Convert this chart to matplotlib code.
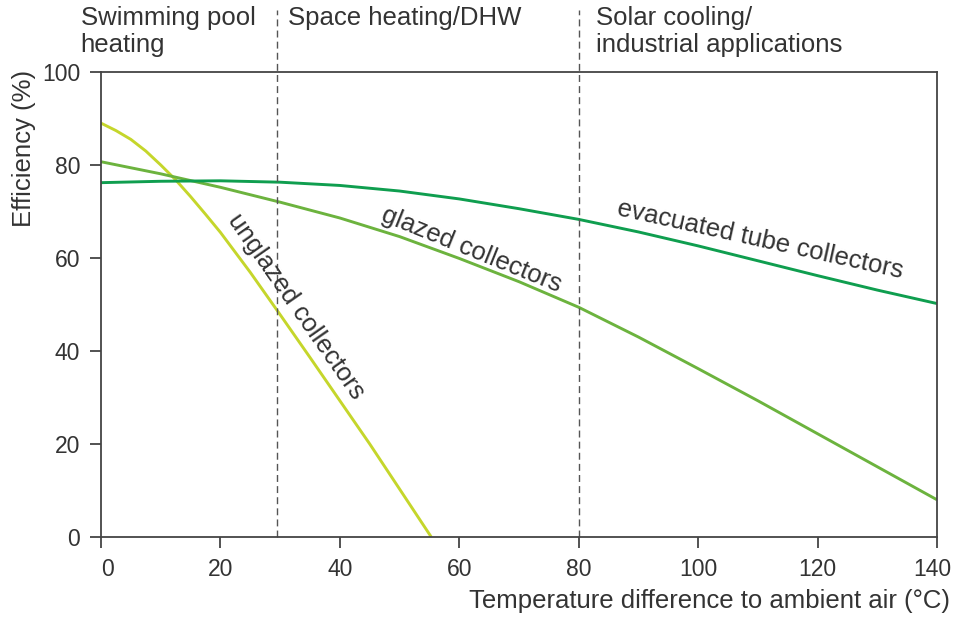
import matplotlib
matplotlib.use("Agg")
import matplotlib.pyplot as plt
from matplotlib.transforms import ScaledTranslation

plt.rcParams['font.family'] = ['Liberation Sans', 'DejaVu Sans']

# values
unglazed_x = [0, 2.5, 5, 7.5, 10, 12.5, 15, 17.5, 20, 25, 30, 35, 40, 45, 50, 55.3]
unglazed_y = [89, 87.4, 85.5, 83.0, 80.0, 76.8, 73.2, 69.4, 65.5, 56.9, 47.8, 38.6, 29.3, 20, 10.3, 0]

glazed_x = [0, 10, 20, 30, 40, 50, 60, 70, 80, 90, 100, 110, 120, 130, 140]
glazed_y = [80.7, 78.1, 75.2, 72.0, 68.6, 64.6, 59.9, 54.9, 49.4, 43.0, 36.2, 29.3, 22.2, 15.1, 8]

evac_x = [0, 10, 20, 30, 40, 50, 60, 70, 80, 90, 100, 110, 120, 130, 140]
evac_y = [76.2, 76.5, 76.6, 76.3, 75.6, 74.4, 72.7, 70.6, 68.3, 65.6, 62.6, 59.4, 56.2, 53.1, 50.2]

region_bounds = [29.5, 80]
region_names = ["Swimming pool\nheating", "Space heating/DHW", "Solar cooling/\nindustrial applications"]
region_text_x = [-3.4, 31.3, 82.9]

x_ticks = [0, 20, 40, 60, 80, 100, 120, 140]
y_ticks = [0, 20, 40, 60, 80, 100]

txt = '#333333'
fs = 18.5
tfs = 16.5
fig = plt.figure(figsize=(9.54, 6.18), dpi=100)
ax = fig.add_axes([0.1059, 0.1311, 0.8763, 0.7524])

ax.plot(unglazed_x, unglazed_y, color='#c5d62b', lw=2.1, solid_capstyle='butt')
ax.plot(glazed_x, glazed_y, color='#6cb33e', lw=2.1, solid_capstyle='butt')
ax.plot(evac_x, evac_y, color='#0f9e4f', lw=2.1, solid_capstyle='butt')

# region separators, running up past the top of the axes
for b in region_bounds:
    ax.plot([b, b], [0, 113.3], color='#555555', lw=1.0, ls=(0, (5, 3)), clip_on=False)

for x, name in zip(region_text_x, region_names):
    ax.text(x, 114.2, name, fontsize=fs, color=txt, ha='left', va='top',
            linespacing=1.15, clip_on=False)

# curve labels
ax.text(32.7, 49.5, "unglazed collectors", fontsize=fs, color=txt, rotation=-55,
        ha='center', va='center', rotation_mode='anchor')
ax.text(62, 61.7, "glazed collectors", fontsize=fs, color=txt, rotation=-22,
        ha='center', va='center', rotation_mode='anchor')
ax.text(110.4, 63.9, "evacuated tube collectors", fontsize=fs, color=txt, rotation=-12.5,
        ha='center', va='center', rotation_mode='anchor')

ax.set_xlim(0, 140)
ax.set_ylim(0, 100)
ax.set_xticks(x_ticks)
ax.set_yticks(y_ticks)
ax.tick_params(direction='out', length=8, width=1.3, color='#444444',
               labelsize=tfs, labelcolor=txt)
ax.tick_params(axis='x', pad=7)
ax.tick_params(axis='y', pad=7)
for s in ax.spines.values():
    s.set_color('#444444')
    s.set_linewidth(1.3)

# nudge the first and last x labels like in the reference
xl = ax.get_xticklabels()
xl[0].set_transform(xl[0].get_transform() + ScaledTranslation(6 / 100, 0, fig.dpi_scale_trans))
xl[-1].set_transform(xl[-1].get_transform() + ScaledTranslation(-5 / 100, 0, fig.dpi_scale_trans))

ax.set_ylabel("Efficiency (%)", fontsize=fs, color=txt, loc='top')
ax.yaxis.set_label_coords(-0.078, 1.005)
ax.set_xlabel("Temperature difference to ambient air (°C)", fontsize=fs, color=txt, loc='right')
ax.xaxis.set_label_coords(1.0155, -0.112)

fig.savefig("out.png", dpi=100)
